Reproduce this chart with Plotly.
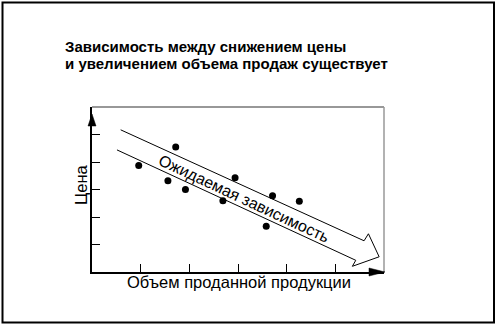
import plotly.graph_objects as go

# Data
volume = [0.96, 1.72, 1.56, 1.92, 2.69, 2.94, 3.71, 3.58, 4.26]
price = [3.87, 4.55, 3.32, 3.00, 2.59, 3.43, 2.77, 1.66, 2.57]
tick_vals = [1, 2, 3, 4, 5]

# Expected-relation arrow outline (data coordinates)
arrow_x = [0.589, 5.59, 5.68, 5.90, 5.35, 5.42, 0.513]
arrow_y = [5.17, 1.135, 1.39, 0.553, 0.207, 0.425, 4.44]

title_lines = ["Зависимость между снижением цены",
               "и увеличением объема продаж существует"]
x_label = "Объем проданной продукции"
y_label = "Цена"
arrow_label = "Ожидаемая зависимость"

W, H = 498, 327
L, R, T, B = 92, 384, 107, 272
FONT = "Arial, Liberation Sans, sans-serif"


def px(x):
    return (x - L) / (R - L)


def py(y):
    return (B - y) / (B - T)


fig = go.Figure()
fig.add_trace(go.Scatter(x=arrow_x, y=arrow_y, mode="lines",
                         line=dict(color="black", width=1), hoverinfo="skip"))
fig.add_trace(go.Scatter(x=volume, y=price, mode="markers",
                         marker=dict(color="black", size=7), hoverinfo="skip"))

axis_common = dict(range=[0, 6], showgrid=False, zeroline=False, showline=True,
                   linecolor="black", linewidth=2, ticks="inside", ticklen=8,
                   tickwidth=1, tickcolor="black", tickvals=tick_vals,
                   showticklabels=False, fixedrange=True)

fig.update_layout(
    width=W, height=H, autosize=False,
    margin=dict(l=L, r=W - R, t=T, b=H - B, pad=0),
    paper_bgcolor="white", plot_bgcolor="white",
    showlegend=False,
    xaxis=axis_common,
    yaxis=axis_common,
    font=dict(family=FONT, color="black"),
)

shapes = [
    # outer frame
    dict(type="rect", xref="paper", yref="paper", x0=px(2.5), x1=px(494), y0=py(2.5), y1=py(322.5),
         line=dict(color="black", width=2)),
    # top border of plot area
    dict(type="line", xref="paper", yref="paper", x0=0, x1=1, y0=1, y1=1,
         line=dict(color="#333333", width=1.2)),
    # right border of plot area
    dict(type="line", xref="paper", yref="paper", x0=1, x1=1, y0=0, y1=1,
         line=dict(color="#999999", width=1.5)),
    # y-axis arrow head
    dict(type="path", xref="paper", yref="paper",
         path=f"M {px(92)} {py(114)} L {px(96)} {py(126)} L {px(88)} {py(126)} Z",
         fillcolor="black", line=dict(color="black", width=0.5)),
    # x-axis arrow head
    dict(type="path", xref="paper", yref="paper",
         path=f"M {px(385)} {py(272)} L {px(369)} {py(268)} L {px(369)} {py(276)} Z",
         fillcolor="black", line=dict(color="black", width=0.5)),
]
fig.update_layout(shapes=shapes)

for line_text, ypos in zip(title_lines, [46, 63]):
    fig.add_annotation(text=line_text, xref="paper", yref="paper", x=px(63), y=py(ypos),
                       xanchor="left", yanchor="middle", align="left", showarrow=False,
                       font=dict(size=15, family=FONT, weight="bold"))
fig.add_annotation(text=x_label, xref="paper", yref="paper", x=px(239), y=py(282),
                   xanchor="center", yanchor="middle", showarrow=False,
                   font=dict(size=16.5, family=FONT))
fig.add_annotation(text=y_label, xref="paper", yref="paper", x=px(81), y=py(185),
                   xanchor="center", yanchor="middle", showarrow=False, textangle=-90,
                   font=dict(size=16.5, family=FONT))
fig.add_annotation(text=arrow_label, x=3.115, y=2.69, xref="x", yref="y",
                   xanchor="center", yanchor="middle", showarrow=False, textangle=25,
                   font=dict(size=16, family=FONT))

fig.write_html("out.html", config=dict(displayModeBar=False))
